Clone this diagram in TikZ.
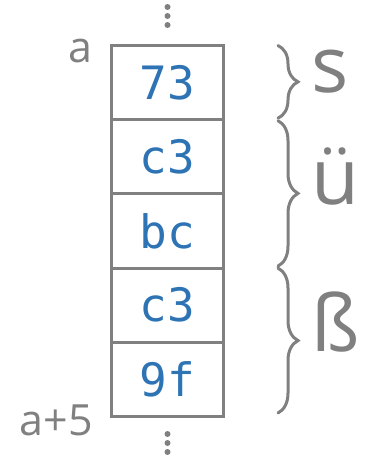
\documentclass[tikz,border=0pt]{standalone}
\usepackage{fontspec}
\setmainfont{Open Sans}
\newfontfamily\hexfont{DejaVu Sans Mono}
\usetikzlibrary{calc,positioning,decorations.pathreplacing}
\definecolor{gray50}{RGB}{128,128,128}
\definecolor{hexblue}{RGB}{46,116,181}
\newcommand{\memDots}[1]{
    \foreach \d in {0,9,18}
    {
        \fill[gray50] ($(#1)+(0,\d)$) circle (3pt);
    }
}

\begin{document}
\begin{tikzpicture}[x=1pt,y=-1pt]
    \tikzstyle{cell}=[rectangle,draw=gray50,line width=3pt,inner sep=0pt,%
    outer sep=0pt,minimum width=112pt,minimum height=74.2pt,text=hexblue,%
    font=\hexfont\fontsize{46}{46}\selectfont] %
    \tikzstyle{addr}=[text=gray50,inner sep=0pt,%
    font=\fontsize{43}{43}\selectfont] %
    \tikzstyle{glyph}=[text=gray50,inner sep=0pt,midway,anchor=mid west,%
    xshift=32pt,yshift=-8pt,font=\fontsize{78}{78}\selectfont] %
    \tikzstyle{grp}=[draw=gray50,line width=3pt,line cap=round,decorate,%
    decoration={brace,amplitude=20pt}] %

    \useasboundingbox (0,0) rectangle (372,455);

    %% bytes
    \node[cell] (B0) at (167.5,82.6) {73};
    \node[cell] (B1) [below=0pt of B0] {c3};
    \node[cell] (B2) [below=0pt of B1] {bc};
    \node[cell] (B3) [below=0pt of B2] {c3};
    \node[cell] (B4) [below=0pt of B3] {9f};

    %% addresses
    \node[addr,anchor=base east] (ADDR0) at ($(B0.north west)+(-18.5,16.5)$) {a};
    \node[addr,anchor=base east] (ADDR5) at ($(B4.south west)+(-18.5,18.5)$) {a+5};

    \memDots{$(B0.north)+(0,-38.5)$}
    \memDots{$(B4.south)+(0,17.5)$}

    %% characters
    \draw[grp] ($(B0.north east)+(54.5,0)$) -- ($(B0.south east)+(54.5,-1.5)$)
        node[glyph] (CH0) {s};
    \draw[grp] ($(B1.north east)+(54.5,1)$) -- ($(B2.south east)+(54.5,-2)$)
        node[glyph] (CH1) {ü};
    \draw[grp] ($(B3.north east)+(54.5,0)$) -- ($(B4.south east)+(54.5,-3.5)$)
        node[glyph] (CH2) {ß};
\end{tikzpicture}
\end{document}
